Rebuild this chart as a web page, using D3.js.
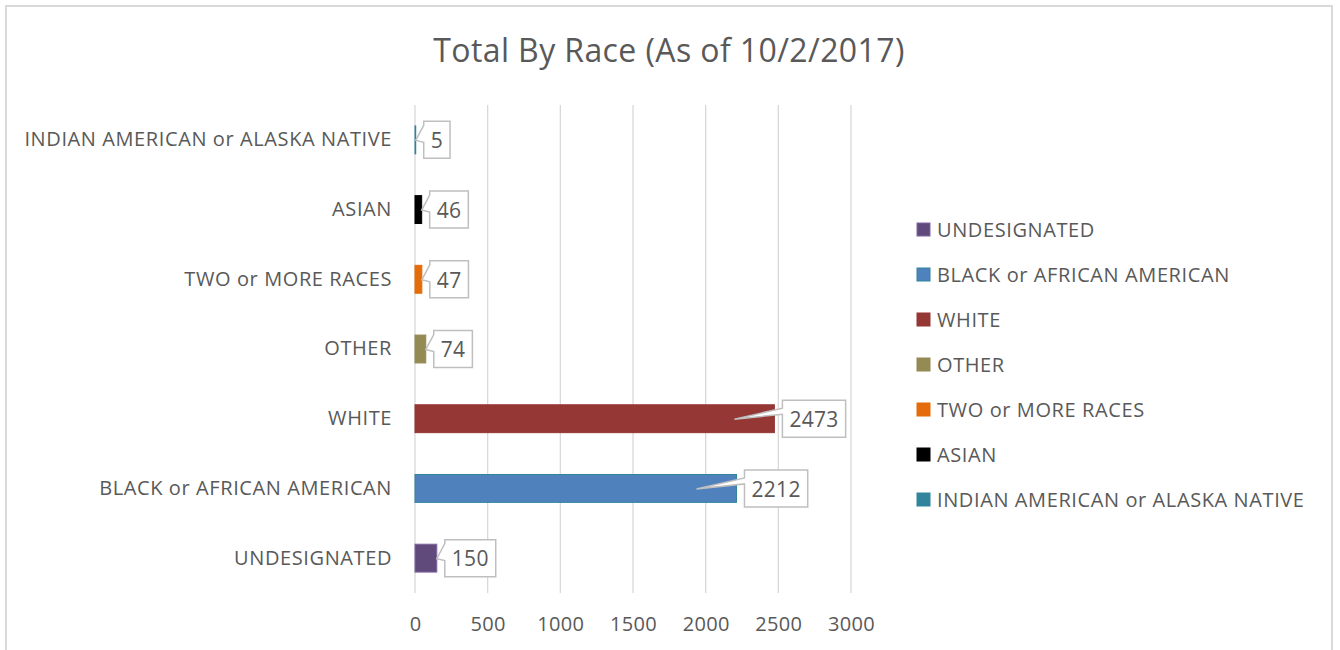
<!DOCTYPE html>
<html>
<head>
<meta charset="utf-8">
<script src="https://cdnjs.cloudflare.com/ajax/libs/d3/7.8.5/d3.min.js"></script>
<style>
  body { margin: 0; background: #fff; }
  #app { width: 1340px; height: 650px; }
  text { font-family: "Open Sans", sans-serif; fill: #595959; }
</style>
</head>
<body>
<div id="app"></div>
<script>
var categories = ['UNDESIGNATED', 'BLACK or AFRICAN AMERICAN', 'WHITE', 'OTHER',
  'TWO or MORE RACES', 'ASIAN', 'INDIAN AMERICAN or ALASKA NATIVE'];
var totals = [150, 2212, 2473, 74, 47, 46, 5];
var fills = ['#604a7b', '#4f81bd', '#953735', '#948a54', '#e46c0a', '#000000', '#31849b'];
var strokes = ['#8064a2', '#31859c', '#953735', '#948a54', '#e46c0a', '#000000', '#31849b'];
var xTicks = [0, 500, 1000, 1500, 2000, 2500, 3000];
var title = 'Total By Race (As of 10/2/2017)';

var width = 1340,
    height = 650;

var svg = d3.select('#app')
    .append('svg')
    .attr('width', width)
    .attr('height', height);

// chart area border (bottom runs off the page)
svg.append('path')
    .attr('d', 'M6,660 V6 H1332 V660')
    .attr('fill', 'none')
    .attr('stroke', '#d9d9d9')
    .attr('stroke-width', 2);

svg.append('text')
    .attr('x', 669)
    .attr('y', 62)
    .attr('text-anchor', 'middle')
    .style('font-size', '32px')
    .style('letter-spacing', '0.4px')
    .text(title);

var xScale = d3.scaleLinear().domain([0, 3000]).range([415, 851]);
var yScale = d3.scaleBand()
    .domain(categories)
    .range([593, 105])
    .paddingInner(0.6)
    .paddingOuter(0.3);

// gridlines
svg.append('g')
    .selectAll('line')
    .data(xTicks)
    .enter()
    .append('line')
    .attr('x1', function (d) { return xScale(d); })
    .attr('x2', function (d) { return xScale(d); })
    .attr('y1', 105)
    .attr('y2', 593)
    .attr('stroke', '#d9d9d9')
    .attr('stroke-width', 1.3);

var xAxis = d3.axisBottom(xScale)
    .tickValues(xTicks)
    .tickFormat(d3.format('d'))
    .tickSize(0)
    .tickPadding(0);
var gx = svg.append('g')
    .attr('transform', 'translate(0, 613)')
    .call(xAxis);
gx.select('.domain').remove();
gx.selectAll('text')
    .style('font-size', '20px')
    .style('letter-spacing', '0.3px')
    .attr('fill', '#595959')
    .attr('dy', '0.9em');

var yAxis = d3.axisLeft(yScale).tickSize(0).tickPadding(0);
var gy = svg.append('g')
    .attr('transform', 'translate(392, 0)')
    .call(yAxis);
gy.select('.domain').remove();
gy.selectAll('text')
    .style('font-size', '20px')
    .style('letter-spacing', '0.6px')
    .attr('fill', '#595959');

// bars
svg.append('g')
    .selectAll('rect')
    .data(totals)
    .enter()
    .append('rect')
    .attr('x', xScale(0))
    .attr('y', function (d, i) { return yScale(categories[i]); })
    .attr('width', function (d) { return xScale(d) - xScale(0); })
    .attr('height', yScale.bandwidth())
    .attr('fill', function (d, i) { return fills[i]; })
    .attr('stroke', function (d, i) { return strokes[i]; })
    .attr('stroke-width', 1);

// data callouts
var callouts = svg.append('g');
totals.forEach(function (d, i) {
    var end = xScale(d);
    var cy = yScale(categories[i]) + yScale.bandwidth() / 2;
    var label = callouts.append('text')
        .attr('y', cy + 1)
        .attr('dy', '0.35em')
        .style('font-size', '21px')
        .style('letter-spacing', '0.3px')
        .text(d);
    var tw = label.node().getComputedTextLength();
    var bx = end + 8,
        bw = tw + 14,
        bh = 37,
        by = cy - bh / 2;
    var big = d > 1000;
    var tipX = big ? end - 40 : end,
        tipY = cy + 0.5;
    var w1 = big ? by + 8 : by + 4,
        w2 = big ? by + 14 : by + 21;
    var path = 'M' + bx + ',' + by + ' H' + (bx + bw) + ' V' + (by + bh) +
        ' H' + bx + ' V' + w2 + ' L' + tipX + ',' + tipY + ' L' + bx + ',' + w1 + ' Z';
    callouts.insert('path', 'text')
        .attr('d', path)
        .attr('fill', '#fff')
        .attr('stroke', '#bfbfbf')
        .attr('stroke-width', 1.5);
    label.attr('x', bx + 7);
    label.raise();
});

// legend
var legend = svg.append('g');
categories.forEach(function (c, i) {
    var ly = 229 + i * 45;
    legend.append('rect')
        .attr('x', 917)
        .attr('y', ly - 6)
        .attr('width', 13)
        .attr('height', 13)
        .attr('fill', fills[i])
        .attr('stroke', strokes[i])
        .attr('stroke-width', 1);
    legend.append('text')
        .attr('x', 937)
        .attr('y', ly + 1)
        .attr('dy', '0.35em')
        .style('font-size', '20px')
        .style('letter-spacing', '0.6px')
        .text(c);
});
</script>
</body>
</html>
